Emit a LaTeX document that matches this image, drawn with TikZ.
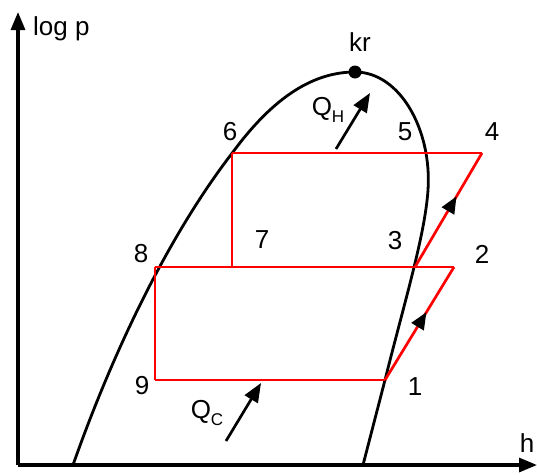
\documentclass[tikz,border=0pt]{standalone}
\usepackage{fontspec}
\setmainfont{Liberation Sans}
\usetikzlibrary{arrows.meta,decorations.markings}
\tikzset{
  axisline/.style={line width=3.2pt, -{Triangle[length=18pt,width=14pt]}},
  curveline/.style={line width=2.8pt, black},
  cycleline/.style={line width=2.7pt, red},
  heatarrow/.style={line width=2.7pt, -{Triangle[length=19pt,width=15pt]}},
  lbl/.style={font=\fontsize{26}{26}\selectfont, inner sep=0pt},
  flowmark/.style={postaction={decorate}, decoration={markings,
     mark=at position #1 with {\arrow[black]{Triangle[length=17pt,width=14pt]}}}}
}
\begin{document}
\begin{tikzpicture}[x=1pt,y=-1pt]
\useasboundingbox (0,0) rectangle (537,474);
% axes
\coordinate (O) at (18,465);
\coordinate (Ytop) at (18,12);
\coordinate (Xend) at (537,465);
\draw[axisline] (O) -- (Ytop);
\draw[axisline] (O) -- (Xend);
\node[lbl, anchor=west] (logp) at (33,29) {log p};
\node[lbl] (hlab) at (527,443) {h};
% saturation curve
\coordinate (sL) at (73,465);
\coordinate (sK) at (355,72);
\coordinate (sR) at (428,190);
\coordinate (sB) at (385,380);
\coordinate (sE) at (363,465);
\coordinate (p6) at (232,153);
\draw[curveline] (sL) .. controls (110,360) and (165,240) .. (233,152)
  .. controls (275,95) and (315,72) .. (sK)
  .. controls (400,72) and (432,130) .. (sR)
  .. controls (425,235) and (405,300) .. (sB) -- (sE);
\fill (sK) circle (6.5pt);
\node[lbl] (kr) at (360,42) {kr};
% cycle points
\coordinate (p1) at (385,380);
\coordinate (p2) at (454,267);
\coordinate (p3) at (415,267);
\coordinate (p4) at (482,153);
\coordinate (p5) at (425,153);
\coordinate (p7) at (232,267);
\coordinate (p8) at (155,267);
\coordinate (p9) at (155,380);
% cycle lines
\draw[cycleline] (p6) -- (p4);
\draw[cycleline, flowmark=0.62] (p3) -- (p4);
\draw[cycleline] (p8) -- (p2);
\draw[cycleline, flowmark=0.6] (p1) -- (p2);
\draw[cycleline] (p9) -- (p1);
\draw[cycleline] (p8) -- (p9);
\draw[cycleline] (p6) -- (p7);
% point labels
\node[lbl] (l1) at (415,387) {1};
\node[lbl] (l2) at (482,254) {2};
\node[lbl] (l3) at (395,241) {3};
\node[lbl] (l4) at (492,132) {4};
\node[lbl] (l5) at (405,132) {5};
\node[lbl] (l6) at (230,132) {6};
\node[lbl] (l7) at (262,240) {7};
\node[lbl] (l8) at (141,254) {8};
\node[lbl] (l9) at (142,386) {9};
% heat flows
\coordinate (qh1) at (336,149);
\coordinate (qh2) at (370,93);
\draw[heatarrow] (qh1) -- (qh2);
\node[lbl] (QH) at (328,110) {Q\raisebox{-0.3em}{\fontsize{17}{17}\selectfont H}};
\coordinate (qc1) at (226,441);
\coordinate (qc2) at (261,383);
\draw[heatarrow] (qc1) -- (qc2);
\node[lbl] (QC) at (207,413) {Q\raisebox{-0.3em}{\fontsize{17}{17}\selectfont C}};
\end{tikzpicture}
\end{document}
